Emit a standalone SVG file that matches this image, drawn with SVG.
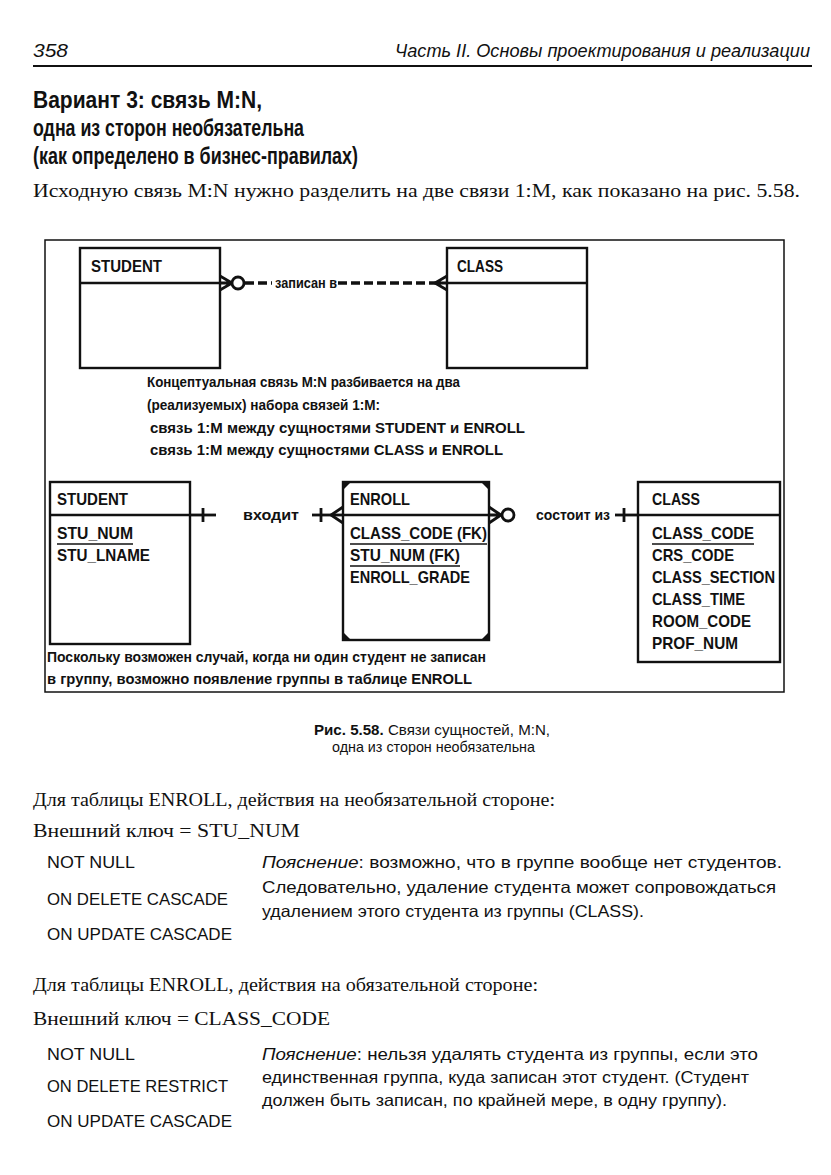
<svg xmlns="http://www.w3.org/2000/svg" width="831" height="1175" viewBox="0 0 831 1175">
<style>
.sf{font-family:"Liberation Serif",serif;font-size:18px;fill:#111}
.hd{font-family:"Liberation Sans",sans-serif;font-size:18px;font-style:italic;fill:#111}
.tt{font-family:"Liberation Sans",sans-serif;font-size:23px;font-weight:bold;fill:#111}
.dg{font-family:"Liberation Sans",sans-serif;font-size:14px;font-weight:bold;fill:#111}
.en{font-family:"Liberation Sans",sans-serif;font-size:17px;font-weight:bold;fill:#111}
.cp{font-family:"Liberation Sans",sans-serif;font-size:15px;fill:#111}
.ls{font-family:"Liberation Sans",sans-serif;font-size:16.5px;fill:#111}
.box{fill:none;stroke:#111;stroke-width:2.4}
.ln{fill:none;stroke:#111;stroke-width:2.8}
.ul{stroke:#111;stroke-width:1.6}
</style>
<rect width="831" height="1175" fill="#fff"/>

<text class="hd" x="33" y="57" textLength="35" lengthAdjust="spacingAndGlyphs">358</text>
<text class="hd" x="810" y="57" text-anchor="end" textLength="415" lengthAdjust="spacingAndGlyphs">Часть II. Основы проектирования и реализации</text>
<line x1="33" y1="66" x2="812" y2="66" stroke="#111" stroke-width="2"/>

<text class="tt" x="33" y="108" textLength="229" lengthAdjust="spacingAndGlyphs">Вариант 3: связь M:N,</text>
<text class="tt" x="33" y="136" textLength="271" lengthAdjust="spacingAndGlyphs">одна из сторон необязательна</text>
<text class="tt" x="33" y="164" textLength="325" lengthAdjust="spacingAndGlyphs">(как определено в бизнес-правилах)</text>
<text class="sf" x="33" y="197" textLength="767" lengthAdjust="spacingAndGlyphs">Исходную связь M:N нужно разделить на две связи 1:M, как показано на рис. 5.58.</text>

<rect x="45" y="240" width="739" height="452" fill="none" stroke="#111" stroke-width="1.5"/>

<g id="student-top">
<rect class="box" x="80" y="248" width="140" height="120"/>
<line class="box" x1="80" y1="283" x2="220" y2="283"/>
<text class="en" x="91" y="272" textLength="71" lengthAdjust="spacingAndGlyphs">STUDENT</text>
</g>
<g id="class-top">
<rect class="box" x="447" y="248" width="140" height="120"/>
<line class="box" x1="447" y1="283" x2="587" y2="283"/>
<text class="en" x="457" y="272" textLength="46" lengthAdjust="spacingAndGlyphs">CLASS</text>
</g>

<g id="note-top">
<text class="dg" x="147" y="387" textLength="313" lengthAdjust="spacingAndGlyphs">Концептуальная связь M:N разбивается на два</text>
<text class="dg" x="147" y="410" textLength="233" lengthAdjust="spacingAndGlyphs">(реализуемых) набора связей 1:M:</text>
<text class="dg" x="150" y="433" textLength="375" lengthAdjust="spacingAndGlyphs">связь 1:M между сущностями STUDENT и ENROLL</text>
<text class="dg" x="150" y="455" textLength="353" lengthAdjust="spacingAndGlyphs">связь 1:M между сущностями CLASS и ENROLL</text>
</g>

<g id="student">
<rect class="box" x="50" y="482" width="140" height="162"/>
<line class="box" x1="50" y1="515" x2="190" y2="515"/>
<text class="en" x="57" y="505" textLength="71" lengthAdjust="spacingAndGlyphs">STUDENT</text>
<text class="en" x="57" y="539" textLength="76" lengthAdjust="spacingAndGlyphs">STU_NUM</text>
<line class="ul" x1="57" y1="544" x2="133" y2="544"/>
<text class="en" x="57" y="561" textLength="93" lengthAdjust="spacingAndGlyphs">STU_LNAME</text>
</g>

<g id="enroll">
<rect class="box" x="343" y="482" width="146" height="158"/>
<path d="M343 482 L351 482 L343 490 Z M489 482 L481 482 L489 490 Z M343 640 L351 640 L343 632 Z M489 640 L481 640 L489 632 Z" fill="#111"/>
<line class="box" x1="343" y1="515" x2="489" y2="515"/>
<text class="en" x="350" y="505" textLength="60" lengthAdjust="spacingAndGlyphs">ENROLL</text>
<text class="en" x="350" y="539" textLength="137" lengthAdjust="spacingAndGlyphs">CLASS_CODE (FK)</text>
<line class="ul" x1="350" y1="544" x2="487" y2="544"/>
<text class="en" x="350" y="561" textLength="110" lengthAdjust="spacingAndGlyphs">STU_NUM (FK)</text>
<line class="ul" x1="350" y1="566" x2="460" y2="566"/>
<text class="en" x="350" y="583" textLength="120" lengthAdjust="spacingAndGlyphs">ENROLL_GRADE</text>
</g>

<g id="class">
<rect class="box" x="638" y="482" width="142" height="180"/>
<line class="box" x1="638" y1="515" x2="780" y2="515"/>
<text class="en" x="652" y="505" textLength="48" lengthAdjust="spacingAndGlyphs">CLASS</text>
<text class="en" x="652" y="539" textLength="102" lengthAdjust="spacingAndGlyphs">CLASS_CODE</text>
<line class="ul" x1="652" y1="544" x2="754" y2="544"/>
<text class="en" x="652" y="561" textLength="82" lengthAdjust="spacingAndGlyphs">CRS_CODE</text>
<text class="en" x="652" y="583" textLength="123" lengthAdjust="spacingAndGlyphs">CLASS_SECTION</text>
<text class="en" x="652" y="605" textLength="93" lengthAdjust="spacingAndGlyphs">CLASS_TIME</text>
<text class="en" x="652" y="627" textLength="99" lengthAdjust="spacingAndGlyphs">ROOM_CODE</text>
<text class="en" x="652" y="649" textLength="86" lengthAdjust="spacingAndGlyphs">PROF_NUM</text>
</g>

<g id="note-bottom">
<text class="dg" x="47" y="662" textLength="439" lengthAdjust="spacingAndGlyphs">Поскольку возможен случай, когда ни один студент не записан</text>
<text class="dg" x="47" y="684" textLength="425" lengthAdjust="spacingAndGlyphs">в группу, возможно появление группы в таблице ENROLL</text>
</g>

<g id="connectors">
<path class="ln" d="M220 276 L232 283 L220 290 M220 283 L232 283"/>
<circle cx="238" cy="283" r="6" fill="#fff" stroke="#111" stroke-width="2.8"/>
<line x1="245" y1="283" x2="272" y2="283" stroke="#111" stroke-dasharray="9 4" stroke-width="3.5"/>
<text class="dg" x="275" y="288" textLength="62" lengthAdjust="spacingAndGlyphs">записан в</text>
<line x1="338" y1="283" x2="437" y2="283" stroke="#111" stroke-dasharray="9 4" stroke-width="3.5"/>
<path class="ln" d="M447 276 L435 283 L447 290 M447 283 L435 283"/>

<line class="ln" x1="190" y1="515" x2="216" y2="515"/>
<line class="ln" x1="203" y1="508" x2="203" y2="522"/>
<text class="dg" x="243" y="520" textLength="56" lengthAdjust="spacingAndGlyphs">входит</text>
<line class="ln" x1="312" y1="515" x2="343" y2="515"/>
<line class="ln" x1="321" y1="508" x2="321" y2="522"/>
<path class="ln" d="M343 507 L331 515 L343 523"/>

<path class="ln" d="M489 507 L501 515 L489 523 M489 515 L501 515"/>
<circle cx="508" cy="515" r="6" fill="#fff" stroke="#111" stroke-width="2.8"/>
<text class="dg" x="536" y="520" textLength="74" lengthAdjust="spacingAndGlyphs">состоит из</text>
<line class="ln" x1="615" y1="515" x2="638" y2="515"/>
<line class="ln" x1="624" y1="508" x2="624" y2="522"/>
</g>

<text class="cp" x="314" y="735" textLength="236" lengthAdjust="spacingAndGlyphs"><tspan font-weight="bold">Рис. 5.58.</tspan> Связи сущностей, M:N,</text>
<text class="cp" x="332" y="752" textLength="203" lengthAdjust="spacingAndGlyphs">одна из сторон необязательна</text>

<text class="sf" x="33" y="806" textLength="522" lengthAdjust="spacingAndGlyphs">Для таблицы ENROLL, действия на необязательной стороне:</text>
<text class="sf" x="33" y="837" textLength="267" lengthAdjust="spacingAndGlyphs">Внешний ключ = STU_NUM</text>
<text class="ls" x="47" y="868" textLength="88" lengthAdjust="spacingAndGlyphs">NOT NULL</text>
<text class="ls" x="47" y="905" textLength="181" lengthAdjust="spacingAndGlyphs">ON DELETE CASCADE</text>
<text class="ls" x="47" y="940" textLength="185" lengthAdjust="spacingAndGlyphs">ON UPDATE CASCADE</text>
<text class="ls" x="262" y="868" textLength="520" lengthAdjust="spacingAndGlyphs"><tspan font-style="italic">Пояснение</tspan>: возможно, что в группе вообще нет студентов.</text>
<text class="ls" x="262" y="893" textLength="514" lengthAdjust="spacingAndGlyphs">Следовательно, удаление студента может сопровождаться</text>
<text class="ls" x="262" y="917" textLength="382" lengthAdjust="spacingAndGlyphs">удалением этого студента из группы (CLASS).</text>

<text class="sf" x="33" y="991" textLength="505" lengthAdjust="spacingAndGlyphs">Для таблицы ENROLL, действия на обязательной стороне:</text>
<text class="sf" x="33" y="1025" textLength="297" lengthAdjust="spacingAndGlyphs">Внешний ключ = CLASS_CODE</text>
<text class="ls" x="47" y="1060" textLength="88" lengthAdjust="spacingAndGlyphs">NOT NULL</text>
<text class="ls" x="47" y="1092" textLength="181" lengthAdjust="spacingAndGlyphs">ON DELETE RESTRICT</text>
<text class="ls" x="47" y="1127" textLength="185" lengthAdjust="spacingAndGlyphs">ON UPDATE CASCADE</text>
<text class="ls" x="262" y="1060" textLength="496" lengthAdjust="spacingAndGlyphs"><tspan font-style="italic">Пояснение</tspan>: нельзя удалять студента из группы, если это</text>
<text class="ls" x="262" y="1083" textLength="487" lengthAdjust="spacingAndGlyphs">единственная группа, куда записан этот студент. (Студент</text>
<text class="ls" x="262" y="1106" textLength="465" lengthAdjust="spacingAndGlyphs">должен быть записан, по крайней мере, в одну группу).</text>
</svg>
